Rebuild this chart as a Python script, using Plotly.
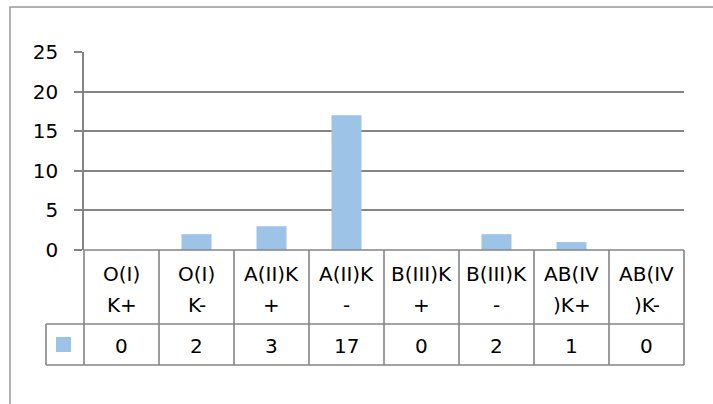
import plotly.graph_objects as go

# ---- data ----
categories = ["O(I)K+", "O(I)K-", "A(II)K+", "A(II)K-", "B(III)K+", "B(III)K-", "AB(IV)K+", "AB(IV)K-"]
label_line1 = ["O(I)", "O(I)", "A(II)K", "A(II)K", "B(III)K", "B(III)K", "AB(IV", "AB(IV"]
label_line2 = ["K+", "K-", "+", "-", "+", "-", ")K+", ")K-"]
values = [0, 2, 3, 17, 0, 2, 1, 0]
y_ticks = [0, 5, 10, 15, 20, 25]

# ---- style ----
BAR = "#9DC3E6"
GRID = "#858585"
FRAME = "#999999"
FONT = "DejaVu Sans"
FS = 20
W, H = 713, 404
L, R, T, B = 84, 684, 52, 250  # plot area in pixels


def px_x(px):
    return (px - L) / (R - L)


def px_y(py):
    return (B - py) / (B - T)


n = len(categories)

fig = go.Figure(
    go.Bar(
        x=categories,
        y=values,
        width=0.4,
        marker=dict(color=BAR, line=dict(width=0)),
        hoverinfo="x+y",
    )
)

fig.update_layout(
    width=W,
    height=H,
    autosize=False,
    margin=dict(l=L, r=W - R, t=T, b=H - B, pad=0),
    plot_bgcolor="white",
    paper_bgcolor="white",
    showlegend=False,
    font=dict(family=FONT, size=FS, color="black"),
)

fig.update_xaxes(
    range=[-0.5, n - 0.5],
    showticklabels=False,
    showgrid=False,
    zeroline=False,
    showline=False,
    ticks="",
)

fig.update_yaxes(
    range=[0, 25],
    tickvals=y_ticks,
    showgrid=True,
    gridcolor=GRID,
    gridwidth=1.6,
    zeroline=False,
    showline=True,
    linecolor=GRID,
    linewidth=1.6,
    ticks="outside",
    ticklen=8,
    tickwidth=1.6,
    tickcolor=GRID,
    ticklabelstandoff=12,
    tickfont=dict(family=FONT, size=FS, color="black"),
)

shapes = []

# outer chart frame (only left and top edges fall inside the picture)
shapes.append(dict(type="rect", xref="paper", yref="paper", layer="below",
                   x0=px_x(10), x1=px_x(740), y0=px_y(7), y1=px_y(430),
                   fillcolor="rgba(0,0,0,0)", line=dict(color=FRAME, width=1.5)))


def hline(x0, x1, y, color=GRID, w=1.6):
    shapes.append(dict(type="line", xref="paper", yref="paper",
                       x0=px_x(x0), x1=px_x(x1), y0=px_y(y), y1=px_y(y),
                       line=dict(color=color, width=w)))


def vline_paper(xp, y0, y1, color=GRID, w=1.6):
    shapes.append(dict(type="line", xref="paper", yref="paper",
                       x0=xp, x1=xp, y0=px_y(y0), y1=px_y(y1),
                       line=dict(color=color, width=w)))


ROW1_BOT = 324
ROW2_BOT = 365
LEG_LEFT = 46

# table horizontal lines
hline(L, R, B)
hline(LEG_LEFT, R, ROW1_BOT)
hline(LEG_LEFT, R, ROW2_BOT)
# table vertical lines at category boundaries
for k in range(n + 1):
    vline_paper(k / n, B, ROW2_BOT)
# legend cell left border
vline_paper(px_x(LEG_LEFT), ROW1_BOT, ROW2_BOT)

# legend key
shapes.append(dict(type="rect", xref="paper", yref="paper",
                   x0=px_x(56), x1=px_x(71), y0=px_y(337), y1=px_y(352),
                   fillcolor=BAR, line=dict(width=0)))

annotations = []
for i, cat in enumerate(categories):
    annotations.append(dict(x=cat, xref="x", y=px_y(274), yref="paper",
                            text=label_line1[i], showarrow=False,
                            xanchor="center", yanchor="middle"))
    annotations.append(dict(x=cat, xref="x", y=px_y(305), yref="paper",
                            text=label_line2[i], showarrow=False,
                            xanchor="center", yanchor="middle"))
    annotations.append(dict(x=cat, xref="x", y=px_y(346), yref="paper",
                            text=str(values[i]), showarrow=False,
                            xanchor="center", yanchor="middle"))

fig.update_layout(shapes=shapes, annotations=annotations)

# remove the page's default body margin so the figure sits at (0, 0)
fig.write_html(
    "out.html",
    config={"displayModeBar": False},
    post_script="document.body.style.margin='0';document.body.style.overflow='hidden';",
)
